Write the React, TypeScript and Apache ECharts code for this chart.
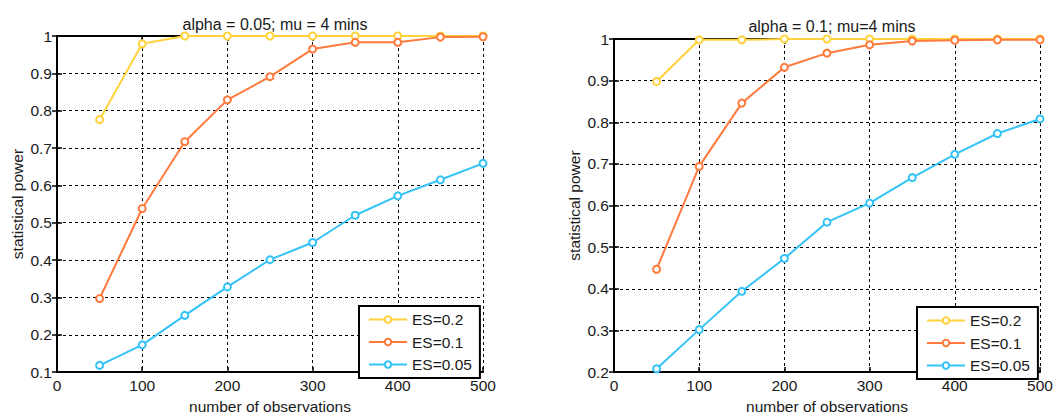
import React, { useEffect, useRef } from "react";
import * as echarts from "echarts";

const xObs = [50, 100, 150, 200, 250, 300, 350, 400, 450, 500];
const seriesNames = ["ES=0.2", "ES=0.1", "ES=0.05"];
const colors = ["#FFD23C", "#FF7A3C", "#33C3F7"];

// left panel: alpha = 0.05
const leftES02 = [0.776, 0.979, 1.0, 1.0, 1.0, 1.0, 1.0, 1.0, 1.0, 1.0];
const leftES01 = [0.297, 0.538, 0.717, 0.829, 0.891, 0.965, 0.983, 0.983, 0.997, 0.998];
const leftES005 = [0.118, 0.173, 0.252, 0.328, 0.401, 0.447, 0.52, 0.572, 0.615, 0.659];

// right panel: alpha = 0.1
const rightES02 = [0.898, 0.998, 0.998, 1.0, 1.0, 1.0, 1.0, 1.0, 1.0, 1.0];
const rightES01 = [0.447, 0.694, 0.846, 0.932, 0.966, 0.986, 0.995, 0.997, 0.998, 0.998];
const rightES005 = [0.208, 0.302, 0.394, 0.473, 0.56, 0.606, 0.667, 0.723, 0.773, 0.808];

const titles = ["alpha = 0.05; mu = 4 mins", "alpha = 0.1; mu=4 mins"];
const xName = "number of observations";
const yName = "statistical power";

const FONT = "'Liberation Sans', Arial, sans-serif";
const TXT = "#1a1a1a";

export default function App() {
  const ref = useRef<HTMLDivElement>(null);
  useEffect(() => {
    if (!ref.current) return;
    const chart = echarts.init(ref.current, undefined, { renderer: "svg" });
    const grids = [
      { left: 57, top: 36, width: 426, height: 342 },
      { left: 614, top: 39, width: 426, height: 340 },
    ];
    const yMins = [0.1, 0.2];
    const axisLine = { show: true, lineStyle: { color: "#000", width: 2 } };
    const tick = { show: true, inside: true, length: 5, lineStyle: { color: "#000", width: 1.5 } };
    const split = { show: true, lineStyle: { color: "#000", width: 1, type: [3, 3] as any } };
    const label = { color: TXT, fontSize: 15.5, fontFamily: FONT };
    const fmt = (v: number) => String(Math.round(v * 10) / 10);

    const xAxis: any[] = [];
    const yAxis: any[] = [];
    grids.forEach((_, gi) => {
      xAxis.push({
        type: "value", gridIndex: gi, min: 0, max: 500, interval: 100, position: "bottom",
        axisLine, axisTick: tick, splitLine: split,
        axisLabel: { ...label, margin: 5 },
        name: xName, nameLocation: "middle", nameGap: 24,
        nameTextStyle: { color: TXT, fontSize: 15.5, fontFamily: FONT },
      });
      xAxis.push({
        type: "value", gridIndex: gi, min: 0, max: 500, interval: 100, position: "top",
        axisLine, axisTick: tick, splitLine: { show: false }, axisLabel: { show: false },
      });
      yAxis.push({
        type: "value", gridIndex: gi, min: yMins[gi], max: 1, interval: 0.1, position: "left",
        axisLine, axisTick: tick, splitLine: split,
        axisLabel: { ...label, margin: 5, formatter: fmt },
        name: yName, nameLocation: "middle", nameGap: 32, nameRotate: 90,
        nameTextStyle: { color: TXT, fontSize: 15.5, fontFamily: FONT },
      });
      yAxis.push({
        type: "value", gridIndex: gi, min: yMins[gi], max: 1, interval: 0.1, position: "right",
        axisLine, axisTick: tick, splitLine: { show: false }, axisLabel: { show: false },
      });
    });

    const panelData = [
      [leftES02, leftES01, leftES005],
      [rightES02, rightES01, rightES005],
    ];
    const series: any[] = [];
    panelData.forEach((arrs, gi) => {
      arrs.forEach((vals, si) => {
        series.push({
          type: "line",
          name: seriesNames[si],
          xAxisIndex: gi * 2,
          yAxisIndex: gi * 2,
          data: vals.map((v, i) => [xObs[i], v]),
          symbol: "emptyCircle",
          symbolSize: 7,
          clip: false,
          color: colors[si],
          lineStyle: { width: 2, color: colors[si] },
          itemStyle: { color: colors[si], borderWidth: 1.3 },
        });
      });
    });

    const legendBase = {
      orient: "vertical",
      data: seriesNames,
      itemWidth: 38,
      itemHeight: 8,
      itemGap: 6.5,
      padding: [5.5, 8, 5.5, 9],
      backgroundColor: "#fff",
      borderColor: "#000",
      borderWidth: 2,
      borderRadius: 0,
      selectedMode: false,
      textStyle: { color: TXT, fontSize: 15.5, fontFamily: FONT, lineHeight: 14, padding: [0, 0, 0, 0] },
    };

    chart.setOption({
      animation: false,
      backgroundColor: "#fff",
      title: [
        { text: titles[0], left: 270, top: 11, textAlign: "center",
          textStyle: { color: TXT, fontSize: 16, fontWeight: "normal", fontFamily: FONT } },
        { text: titles[1], left: 827, top: 13, textAlign: "center",
          textStyle: { color: TXT, fontSize: 16, fontWeight: "normal", fontFamily: FONT } },
      ],
      grid: grids,
      xAxis,
      yAxis,
      legend: [
        { ...legendBase, left: 359, top: 306 },
        { ...legendBase, left: 917, top: 307 },
      ],
      series,
    });
    return () => chart.dispose();
  }, []);
  return (
    <div
      ref={ref}
      style={{ position: "absolute", left: 0, top: 0, width: 1062, height: 419 }}
    />
  );
}
